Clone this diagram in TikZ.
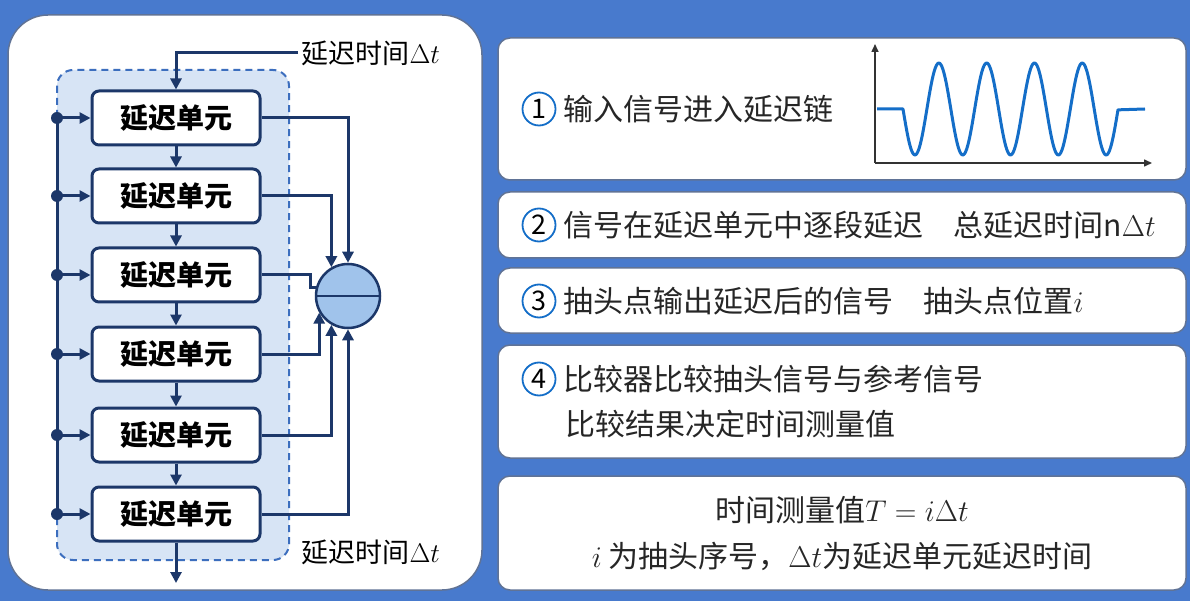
\RequirePackage{fix-cm}
\documentclass[tikz,border=0pt]{standalone}
\usepackage{fontspec}
\setmainfont{Noto Sans CJK SC}
\usepackage{amsmath}
\usetikzlibrary{arrows.meta}
\definecolor{bg}{RGB}{72,122,205}
\definecolor{navy}{RGB}{28,55,105}
\definecolor{dashcol}{RGB}{60,110,190}
\definecolor{shade}{RGB}{215,228,245}
\definecolor{wave}{RGB}{20,110,200}
\definecolor{cmp}{RGB}{160,195,235}
\tikzset{
  panel/.style={draw=navy!70,line width=1.5pt,fill=white,rounded corners=12pt},
  cell/.style={draw=navy,line width=3pt,fill=white,rounded corners=7pt,minimum width=168pt,minimum height=54pt,font=\fontsize{28}{28}\selectfont\bfseries},
  conn/.style={draw=navy,line width=3pt,-{Triangle[length=11pt,width=11pt]}},
  ptxt/.style={font=\fontsize{30}{34}\selectfont,anchor=west,text=black!85},
  num/.style={circle,draw=wave,line width=1.8pt,minimum size=33pt,inner sep=0pt,font=\fontsize{27}{27}\selectfont}
}
\begin{document}
\begin{tikzpicture}[x=1pt,y=-1pt]
\useasboundingbox (0,0) rectangle (1190,601);
\fill[bg] (0,0) rectangle (1190,601);
% left panel
\draw[panel,rounded corners=40pt] (8,15) rectangle (482,590);
\draw[dashcol,line width=2pt,dash pattern=on 7pt off 5pt,fill=shade,rounded corners=16pt] (57,70) rectangle (289,560);
\foreach \i/\y in {1/118,2/196,3/275,4/354,5/435,6/514}{
  \node[cell] (c\i) at (176,\y) {延迟单元};
  \coordinate (d\i) at (57,\y);
  \fill[navy] (d\i) circle (6pt);
  \draw[conn] (d\i) -- (c\i.west);
}
\draw[navy,line width=3pt] (d1) -- (d6);
\foreach \a/\b in {1/2,2/3,3/4,4/5,5/6}{\draw[conn] (c\a.south) -- (c\b.north);}
\node[font=\fontsize{27}{27}\selectfont,anchor=west] (tin) at (298,53) {延迟时间$\Delta t$};
\draw[conn] (tin.west) -| (c1.north);
\node[font=\fontsize{27}{27}\selectfont,anchor=west] (tout) at (298,552) {延迟时间$\Delta t$};
\coordinate (oend) at (176,583);
\draw[conn] (c6.south) -- (oend);
% comparator
\node[circle,draw=navy,line width=2.5pt,fill=cmp,minimum size=64pt,inner sep=0pt] (cmp) at (348,296) {};
\draw[navy,line width=2.5pt] (cmp.west) -- (cmp.east);
\coordinate (k3) at (310,275);
\draw[conn] (c1.east) -| (cmp.north);
\draw[conn] (c2.east) -| (cmp.120);
\draw[navy,line width=3pt] (c3.east) -- (k3) |- (cmp.165);
\draw[conn] (c4.east) -| (cmp.210);
\draw[conn] (c5.east) -| (cmp.240);
\draw[conn] (c6.east) -| (cmp.south);
% right panels
\draw[panel] (498,38) rectangle (1186,180);
\draw[panel] (498,192) rectangle (1186,258);
\draw[panel] (498,268) rectangle (1186,333);
\draw[panel] (498,345) rectangle (1186,458);
\draw[panel] (498,476) rectangle (1186,590);
\node[num] (n1) at (539,109) {1};
\node[ptxt] (t1) at (560,109) {输入信号进入延迟链};
\node[num] (n2) at (539,225) {2};
\node[ptxt] (t2) at (560,225) {信号在延迟单元中逐段延迟\quad 总延迟时间n$\Delta t$};
\node[num] (n3) at (539,301) {3};
\node[ptxt] (t3) at (560,301) {抽头点输出延迟后的信号\quad 抽头点位置$i$};
\node[num] (n4) at (539,379) {4};
\node[ptxt] (t4) at (560,379) {比较器比较抽头信号与参考信号};
\node[ptxt] (t4b) at (562,424) {比较结果决定时间测量值};
\node[font=\fontsize{30}{34}\selectfont,text=black!85] (t5) at (842,510) {时间测量值$T=i\Delta t$};
\node[font=\fontsize{30}{34}\selectfont,text=black!85] (t5b) at (842,556) {$i$ 为抽头序号，$\Delta t$为延迟单元延迟时间};
% waveform
\draw[black!80,line width=1.5pt,-{Triangle[length=8pt,width=7pt]}] (875,163) -- (875,44);
\draw[black!80,line width=1.5pt,-{Triangle[length=8pt,width=7pt]}] (875,163) -- (1152,163);
\draw[wave,line width=3pt,line join=round] (877,109) -- (903,109)
  -- plot[domain=0:4.5,samples=200,smooth] ({903+\x*47.8},{109+46*sin(360*\x)}) -- (1145,109);
\end{tikzpicture}
\end{document}
